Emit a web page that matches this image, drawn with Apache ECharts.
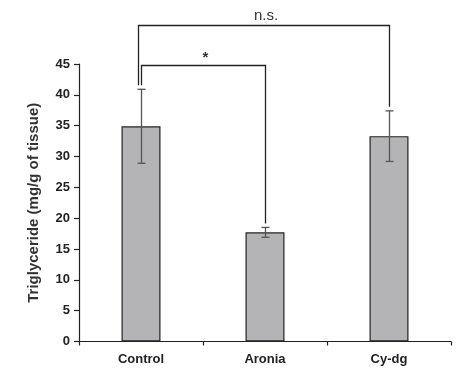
<!DOCTYPE html>
<html>
<head>
<meta charset="utf-8">
<script src="https://cdn.jsdelivr.net/npm/echarts@6/dist/echarts.min.js"></script>
<style>html,body{margin:0;padding:0;background:#fff}#c{width:460px;height:373px}</style>
</head>
<body>
<div id="c"></div>
<script>
const categories = ['Control', 'Aronia', 'Cy-dg'];
const means = [34.9, 17.7, 33.3];
const errors = [6.0, 0.8, 4.1];
const yMin = 0, yMax = 45, yStep = 5;
// significance brackets: [fromIndex, toIndex, bracket level (data units), label]
const bracketFrom = [0, 0];
const bracketTo = [2, 1];
const bracketLevel = [51.4, 44.8];
const bracketLabel = ['n.s.', '*'];

const chart = echarts.init(document.getElementById('c'), null, {renderer: 'canvas'});
const font = 'Liberation Sans, Arial, sans-serif';

const option = {
  animation: false,
  backgroundColor: '#fff',
  grid: {left: 79, right: 9, top: 64, bottom: 31.5},
  xAxis: {
    type: 'category',
    data: categories,
    axisLine: {lineStyle: {color: '#222', width: 1.2}},
    axisTick: {show: true, length: 4, alignWithLabel: false, lineStyle: {color: '#222', width: 1.2}},
    axisLabel: {color: '#222', fontFamily: font, fontWeight: 'bold', fontSize: 13, margin: 11}
  },
  yAxis: {
    type: 'value',
    min: yMin, max: yMax, interval: yStep,
    name: 'Triglyceride (mg/g of tissue)',
    nameLocation: 'middle',
    nameGap: 38,
    nameTextStyle: {color: '#333', fontFamily: font, fontWeight: 'bold', fontSize: 15},
    axisLine: {show: true, lineStyle: {color: '#222', width: 1.2}},
    axisTick: {show: true, length: 5, lineStyle: {color: '#222', width: 1.2}},
    axisLabel: {color: '#222', fontFamily: font, fontWeight: 'bold', fontSize: 13, margin: 9},
    splitLine: {show: false}
  },
  series: [
    {
      type: 'bar',
      data: means,
      barWidth: 39,
      itemStyle: {color: '#b4b4b7', borderColor: '#222', borderWidth: 1.2},
      z: 2
    },
    {
      type: 'custom',
      z: 3,
      data: means.map((m, i) => [i, m - errors[i], m + errors[i]]),
      renderItem: function (params, api) {
        const x = api.value(0);
        const lo = api.coord([x, api.value(1)]);
        const hi = api.coord([x, api.value(2)]);
        const cx = Math.round(lo[0]) + 0.5;
        const hw = 4;
        const st = {stroke: '#555', lineWidth: 1.3};
        return {
          type: 'group',
          children: [
            {type: 'line', shape: {x1: cx, y1: lo[1], x2: cx, y2: hi[1]}, style: st},
            {type: 'line', shape: {x1: cx - hw, y1: lo[1], x2: cx + hw, y2: lo[1]}, style: st},
            {type: 'line', shape: {x1: cx - hw, y1: hi[1], x2: cx + hw, y2: hi[1]}, style: st}
          ]
        };
      }
    },
    {
      type: 'custom',
      z: 4,
      clip: false,
      data: bracketFrom.map((f, i) => [f, bracketTo[i], bracketLevel[i], i]),
      renderItem: function (params, api) {
        const i = api.value(3);
        const f = api.value(0), t = api.value(1);
        const lvl = api.value(2);
        const leftOff = i === 0 ? -3 : 0;
        const pTopL = api.coord([f, lvl]);
        const pTopR = api.coord([t, lvl]);
        const endL = api.coord([f, means[f] + errors[f]]);
        const endR = api.coord([t, means[t] + errors[t]]);
        const xl = Math.round(pTopL[0]) + 0.5 + leftOff;
        const xr = Math.round(pTopR[0]) + 0.5;
        const yt = Math.round(pTopL[1]) + 0.5;
        const gap = 4;
        const st = {stroke: '#222', lineWidth: 1.3, fill: null};
        return {
          type: 'group',
          children: [
            {type: 'polyline', shape: {points: [[xl, endL[1] - gap], [xl, yt], [xr, yt], [xr, endR[1] - gap]]}, style: st},
            {type: 'text', style: {
              text: bracketLabel[i], x: (xl + xr) / 2 + 2, y: yt - (i === 0 ? 2 : 0),
              align: 'center', verticalAlign: 'bottom',
              fill: '#333', font: (i === 0 ? 'normal 15px ' : 'bold 15px ') + font
            }}
          ]
        };
      }
    }
  ]
};
chart.setOption(option);
</script>
</body>
</html>
